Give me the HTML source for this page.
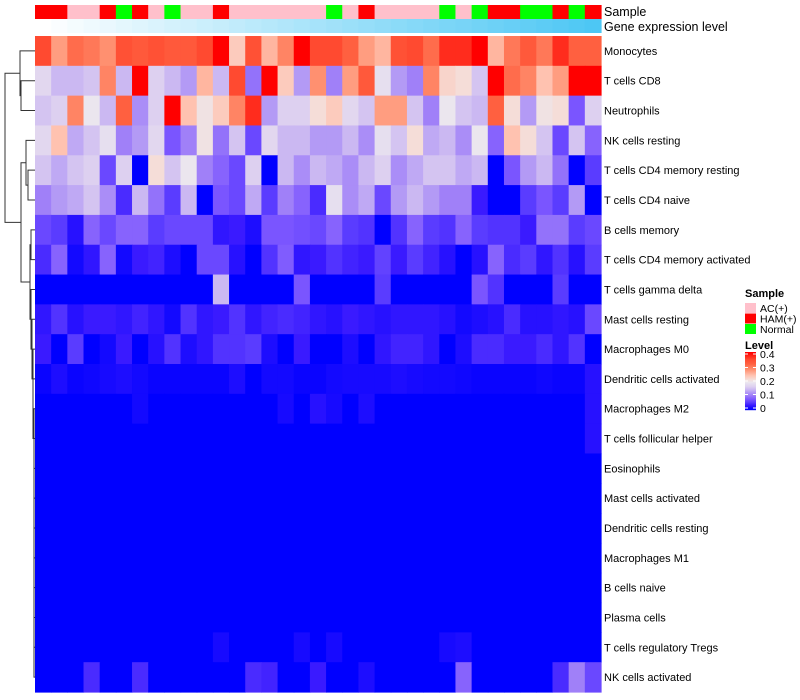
<!DOCTYPE html>
<html><head><meta charset="utf-8">
<style>
html,body{margin:0;padding:0;background:#fff;}
svg{display:block;font-family:"Liberation Sans",Arial,sans-serif;}
</style></head>
<body>
<svg id="chart" width="800" height="700" viewBox="0 0 800 700" xmlns="http://www.w3.org/2000/svg">
<g id="dendro" stroke="#333" stroke-width="1" fill="none"></g>
<g id="annot"></g>
<g id="cells"></g>
<g id="rowlabels" font-size="11" fill="#000"></g>
<text x="604" y="16" font-size="12.5">Sample</text>
<text x="604" y="31" font-size="12.5">Gene expression level</text>
<g id="legend"></g>
</svg>
<script>
const rowNames = ["Monocytes","T cells CD8","Neutrophils","NK cells resting","T cells CD4 memory resting","T cells CD4 naive","B cells memory","T cells CD4 memory activated","T cells gamma delta","Mast cells resting","Macrophages M0","Dendritic cells activated","Macrophages M2","T cells follicular helper","Eosinophils","Mast cells activated","Dendritic cells resting","Macrophages M1","B cells naive","Plasma cells","T cells regulatory  Tregs","NK cells activated"];
const sampleGroups = ["HAM(+)","HAM(+)","AC(+)","AC(+)","HAM(+)","Normal","HAM(+)","AC(+)","Normal","AC(+)","AC(+)","HAM(+)","AC(+)","AC(+)","AC(+)","AC(+)","AC(+)","AC(+)","Normal","AC(+)","HAM(+)","AC(+)","AC(+)","AC(+)","AC(+)","Normal","AC(+)","Normal","HAM(+)","HAM(+)","Normal","Normal","HAM(+)","Normal","HAM(+)"];
const geneLevel = [0,0.03,0.06,0.09,0.12,0.15,0.18,0.21,0.24,0.26,0.29,0.32,0.35,0.38,0.41,0.44,0.47,0.5,0.53,0.56,0.59,0.62,0.65,0.68,0.71,0.74,0.76,0.79,0.82,0.85,0.88,0.91,0.94,0.97,1];
const r0 = [0.35,0.27,0.31,0.30,0.28,0.34,0.33,0.34,0.33,0.33,0.35,0.4,0.23,0.34,0.25,0.29,0.4,0.35,0.35,0.32,0.27,0.25,0.34,0.35,0.31,0.37,0.37,0.4,0.25,0.30,0.33,0.30,0.37,0.32,0.32];
const r1 = [0.17,0.14,0.14,0.15,0.29,0.14,0.4,0.16,0.14,0.12,0.25,0.14,0.35,0.09,0.4,0.23,0.12,0.28,0.10,0.27,0.33,0.18,0.12,0.10,0.29,0.22,0.21,0.15,0.4,0.31,0.29,0.24,0.27,0.4,0.4];
const r2 = [0.15,0.16,0.29,0.19,0.14,0.32,0.11,0.16,0.4,0.24,0.2,0.23,0.29,0.37,0.12,0.16,0.16,0.21,0.23,0.17,0.15,0.27,0.27,0.15,0.10,0.19,0.15,0.14,0.32,0.21,0.12,0.2,0.21,0.07,0.16];
const r3 = [0.17,0.24,0.13,0.15,0.18,0.10,0.12,0.17,0.07,0.10,0.2,0.09,0.15,0.06,0.17,0.14,0.14,0.12,0.12,0.14,0.11,0.18,0.15,0.21,0.13,0.14,0.11,0.19,0.08,0.24,0.21,0.15,0.06,0.15,0.08];
const r4 = [0.15,0.13,0.15,0.16,0.06,0.16,0,0.21,0.15,0.19,0.1,0.08,0.06,0.16,0,0.14,0.11,0.14,0.13,0.11,0.14,0.16,0.11,0.13,0.15,0.15,0.13,0.14,0,0.07,0.12,0.14,0.09,0,0.05];
const r5 = [0.10,0.12,0.13,0.15,0.11,0.04,0.14,0.09,0.05,0.14,0,0.07,0.06,0.13,0.05,0.10,0.08,0.04,0.18,0.11,0.13,0.06,0.12,0.14,0.12,0.10,0.10,0.03,0,0,0.05,0.07,0.05,0.12,0];
const r6 = [0.06,0.05,0.02,0.08,0.06,0.08,0.08,0.05,0.06,0.06,0.06,0.025,0.03,0.015,0.07,0.07,0.065,0.06,0.08,0.05,0.045,0,0.045,0.08,0.05,0.045,0.08,0.05,0.045,0.045,0.03,0.09,0.09,0.05,0.06];
const r7 = [0.04,0.08,0.01,0.025,0.08,0.01,0.03,0.035,0.015,0,0.06,0.06,0.02,0,0.045,0.075,0.025,0.03,0.045,0.035,0.03,0.055,0.03,0.05,0.035,0.02,0,0.02,0.08,0.04,0.05,0.025,0.045,0.02,0.05];
const r8 = [0,0,0,0,0,0,0,0,0,0,0,0.14,0,0,0,0,0.07,0,0,0,0,0.05,0,0,0,0,0,0.07,0.045,0,0,0,0.05,0,0];
const r9 = [0.025,0.045,0.02,0.03,0.03,0.025,0.035,0.025,0.01,0.045,0.025,0.03,0.045,0.025,0.035,0.04,0.035,0.025,0.02,0.03,0.025,0.02,0.025,0.025,0.025,0.02,0.01,0.015,0.02,0.04,0.02,0.02,0.025,0.02,0.06];
const r10 = [0.03,0,0.05,0,0.01,0.03,0,0.02,0.045,0.015,0.025,0.045,0.045,0.05,0.015,0,0.03,0,0,0.015,0,0.025,0.035,0.035,0.025,0,0.015,0.04,0.04,0.03,0.03,0.04,0.025,0.045,0];
const r11 = [0.005,0.015,0.005,0.008,0.012,0.015,0.01,0.005,0.005,0.005,0.005,0.005,0.015,0,0.01,0.01,0.005,0.005,0.01,0.012,0.012,0.012,0.015,0.012,0.01,0.01,0.008,0.005,0.005,0.005,0.005,0.008,0.005,0.005,0.02];
const r12 = [0,0,0,0,0,0,0.01,0,0,0,0,0,0,0,0,0.012,0,0.02,0.012,0,0.015,0,0,0,0,0,0,0,0,0,0,0,0,0,0.02];
const r13 = [0,0,0,0,0,0,0,0,0,0,0,0,0,0,0,0,0,0,0,0,0,0,0,0,0,0,0,0,0,0,0,0,0,0,0.02];
const r14 = [0,0,0,0,0,0,0,0,0,0,0,0,0,0,0,0,0,0,0,0,0,0,0,0,0,0,0,0,0,0,0,0,0,0,0];
const r15 = [0,0,0,0,0,0,0,0,0,0,0,0,0,0,0,0,0,0,0,0,0,0,0,0,0,0,0,0,0,0,0,0,0,0,0];
const r16 = [0,0,0,0,0,0,0,0,0,0,0,0,0,0,0,0,0,0,0,0,0,0,0,0,0,0,0,0,0,0,0,0,0,0,0];
const r17 = [0,0,0,0,0,0,0,0,0,0,0,0,0,0,0,0,0,0,0,0,0,0,0,0,0,0,0,0,0,0,0,0,0,0,0];
const r18 = [0,0,0,0,0,0,0,0,0,0,0,0,0,0,0,0,0,0,0,0,0,0,0,0,0,0,0,0,0,0,0,0,0,0,0];
const r19 = [0,0,0,0,0,0,0,0,0,0,0,0,0,0,0,0,0,0,0,0,0,0,0,0,0,0,0,0,0,0,0,0,0,0,0];
const r20 = [0,0,0,0,0,0,0,0,0,0,0,0.012,0,0,0,0,0.012,0,0.012,0,0,0,0,0,0,0.012,0.015,0,0,0,0,0,0,0,0];
const r21 = [0,0,0,0.04,0,0,0.04,0,0,0,0,0,0,0.04,0.035,0,0,0.03,0,0,0.015,0,0,0,0,0,0.08,0,0,0,0,0,0.04,0.1,0.06];
const matrix = [r0,r1,r2,r3,r4,r5,r6,r7,r8,r9,r10,r11,r12,r13,r14,r15,r16,r17,r18,r19,r20,r21];
const levelTicks = [0,0.1,0.2,0.3,0.4];

const NS = "http://www.w3.org/2000/svg";
const X0 = 35, X1 = 601, Y0 = 36, Y1 = 692;
const nCol = 35, nRow = rowNames.length;
const cw = (X1 - X0) / nCol, rh = (Y1 - Y0) / nRow;
const xPos = c => X0 + c * cw;
const yPos = r => Y0 + r * rh;
const groupColors = {"AC(+)":"#ffc0cb","HAM(+)":"#ff0000","Normal":"#00ff00"};
const stops = [[0,[0,0,255]],[0.03,[58,26,255]],[0.05,[90,60,255]],[0.07,[122,85,255]],[0.1,[160,128,248]],[0.12,[179,154,245]],[0.14,[203,184,242]],[0.16,[221,208,240]],[0.19,[235,230,238]],[0.21,[245,221,216]],[0.24,[255,194,176]],[0.28,[255,144,112]],[0.32,[255,96,64]],[0.35,[255,74,48]],[0.4,[255,0,0]]];
function colorFor(v){
  v = Math.max(0, Math.min(0.4, v));
  for (let i=1;i<stops.length;i++){
    if (v <= stops[i][0]){
      const [a,ca]=stops[i-1],[b,cb]=stops[i];
      const t=(v-a)/(b-a);
      return "rgb("+ca.map((x,k)=>Math.round(x+(cb[k]-x)*t)).join(",")+")";
    }
  }
  return "rgb(255,0,0)";
}
function geneColor(t){
  const a=[255,255,255], b=[77,199,244];
  return "rgb("+a.map((x,k)=>Math.round(x+(b[k]-x)*t)).join(",")+")";
}
function mk(tag, attrs, parent){
  const el=document.createElementNS(NS,tag);
  for (const k in attrs) el.setAttribute(k, attrs[k]);
  parent.appendChild(el); return el;
}
const cells = document.getElementById("cells");
matrix.forEach((row, r) => {
  row.forEach((v, c) => {
    const el = mk("rect",{x:xPos(c),y:yPos(r),width:cw+0.6,height:rh+0.6,fill:colorFor(v)},cells);
    
    
  });
});
const annot = document.getElementById("annot");
sampleGroups.forEach((g, c) => {
  const el = mk("rect",{x:xPos(c),y:5,width:cw+0.6,height:14,fill:groupColors[g]},annot);
  
  
});
geneLevel.forEach((t, c) => {
  const el = mk("rect",{x:xPos(c),y:19,width:cw+0.6,height:14,fill:geneColor(t)},annot);
  
  
});
const rl = document.getElementById("rowlabels");
rowNames.forEach((n, r) => {
  const el = mk("text",{x:604,y:yPos(r)+rh/2+4},rl);
  el.textContent = n;
  
  
});
// dendrogram
const dg = document.getElementById("dendro");
const cy = r => yPos(r) + rh/2;
function link(xm, ya, xa, yb, xb){
  const el = mk("path",{d:`M${xa},${ya}H${xm}V${yb}H${xb}`},dg);
  
  
}
link(21, cy(1), X0, cy(2), X0);
link(20, cy(0), X0, (cy(1)+cy(2))/2, 21);
link(28, cy(4), X0, cy(5), X0);
link(26, cy(3), X0, (cy(4)+cy(5))/2, 28);
link(31, cy(6), X0, cy(7), X0);
// lower cluster rows 9..21
let prevY = cy(21), prevX = X0;
for (let r = 20; r >= 9; r--){
  const xm = r >= 12 ? 34 : (r >= 10 ? 33 : 32);
  link(xm, cy(r), X0, prevY, prevX);
  prevY = (cy(r)+prevY)/2; prevX = xm;
}
link(31, cy(8), X0, prevY, prevX);
const gY = (cy(8)+prevY)/2;
link(30, cy(6)+rh/2, 31, gY, 31);
const eY = (cy(6)+rh/2+gY)/2;
link(21, (cy(3)+(cy(4)+cy(5))/2)/2, 26, eY, 30);
const iY = ((cy(3)+(cy(4)+cy(5))/2)/2 + eY)/2;
link(5, (cy(0)+(cy(1)+cy(2))/2)/2, 20, iY, 21);
// legend
const lg = document.getElementById("legend");
const t1 = mk("text",{x:745,y:297,"font-size":"11","font-weight":"bold"},lg); t1.textContent="Sample";
 
["AC(+)","HAM(+)","Normal"].forEach((g,i)=>{
  const r = mk("rect",{x:745,y:303+i*10.5,width:11,height:10,fill:groupColors[g]},lg);
   
  const t = mk("text",{x:760,y:312+i*10.5,"font-size":"10.5"},lg); t.textContent=g;
   
});
const t2 = mk("text",{x:745,y:349,"font-size":"11","font-weight":"bold"},lg); t2.textContent="Level";
 
const cbTop = 352, cbBot = 410;
for (let i=0;i<58;i++){
  const v = 0.4*(1 - i/57);
  const r = mk("rect",{x:745,y:cbTop+i,width:11,height:1.2,fill:colorFor(v)},lg);
   
}
levelTicks.forEach(v=>{
  const y = cbBot - (v/0.4)*(cbBot-cbTop-4) - 2;
  const ln = mk("line",{x1:745,x2:748,y1:y,y2:y,stroke:"#fff","stroke-width":"1"},lg);
   
  const ln2 = mk("line",{x1:753,x2:756,y1:y,y2:y,stroke:"#fff","stroke-width":"1"},lg);
   
  const t = mk("text",{x:760,y:y+4,"font-size":"10.5"},lg); t.textContent = String(v);
   
});
</script>
</body></html>
